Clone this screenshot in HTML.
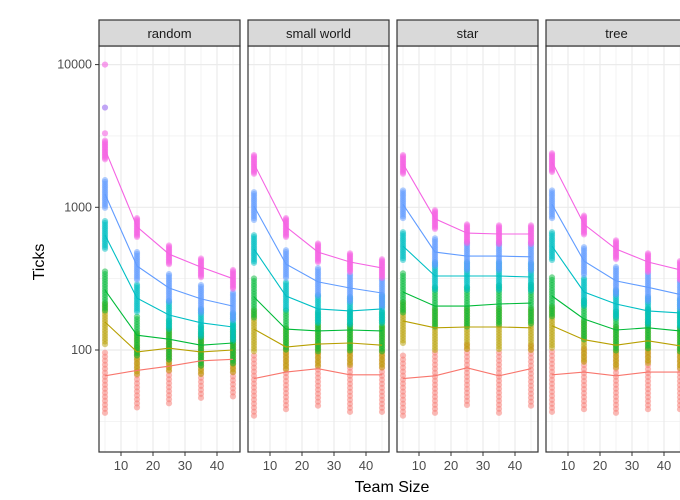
<!DOCTYPE html>
<html><head><meta charset="utf-8"><style>
body{margin:0;background:#fff;}
svg{display:block;font-family:"Liberation Sans",Arial,sans-serif;}
</style></head><body>
<svg id="chart" width="680" height="500" viewBox="0 0 680 500" xmlns="http://www.w3.org/2000/svg">
<text x="44" y="262" transform="rotate(-90 44 262)" text-anchor="middle" font-size="16" fill="#000">Ticks</text>
<text x="392" y="492" text-anchor="middle" font-size="16" fill="#000">Team Size</text>
</svg>
<script>
const panels = ["random","small world","star","tree"];
const teamSizes = [5,15,25,35,45];
const seriesColors = ["#F8766D","#B79F00","#00BA38","#00BFC4","#619CFF","#F564E3"];
const medRandom = [[66,72,77,84,86],[157,97,103,97,100],[263,127,119,108,112],[640,231,176,155,145],[1240,388,272,228,203],[2550,730,470,381,316]];
const medSmall = [[63,70,74,67,67],[140,105,110,112,108],[235,140,136,138,136],[510,239,194,188,194],[1020,400,300,272,251],[2020,730,485,414,376]];
const medStar = [[63,66,75,66,74],[160,143,145,145,143],[255,203,203,210,213],[535,330,330,330,325],[1050,485,455,455,450],[2020,830,660,650,650]];
const medTree = [[67,70,66,70,70],[148,118,108,116,107],[239,165,138,143,136],[535,255,210,188,182],[1050,420,305,275,245],[2080,760,510,414,365]];
const medians = [medRandom, medSmall, medStar, medTree];
const spreadLo = [0.55,0.7,0.72,0.8,0.8,0.85];
const spreadHi = [1.45,1.35,1.35,1.25,1.25,1.15];
const outliers = [10000,5000,3300];
const yTicks = [10000,1000,100];
const xTicks = [10,20,30,40];

const NS="http://www.w3.org/2000/svg";
const svg=document.getElementById('chart');
function mk(t,a,p){const e=document.createElementNS(NS,t);for(const k in a)e.setAttribute(k,a[k]);(p||svg).appendChild(e);return e;}
const plotTop=46,plotBottom=452,pw=141,gap=8,left0=99;
function y(v){return 350-(Math.log10(v)-2)*142.7;}
function xs(p){const x0=left0+p*(pw+gap);return v=>x0+6+(v-5)*3.2;}
const npts=16;
panels.forEach((name,p)=>{
  const x0=left0+p*(pw+gap), X=xs(p);
  const g=mk('g',{});
  
  
  mk('rect',{x:x0,y:plotTop,width:pw,height:plotBottom-plotTop,fill:'#fff'},g);
  [1,2,3].forEach(d=>{const v=Math.pow(10,d+0.5);mk('line',{x1:x0,x2:x0+pw,y1:y(v),y2:y(v),stroke:'#f0f0f0','stroke-width':0.8},g);});
  teamSizes.forEach(v=>mk('line',{x1:X(v),x2:X(v),y1:plotTop,y2:plotBottom,stroke:'#f0f0f0','stroke-width':0.8},g));
  yTicks.forEach(v=>mk('line',{x1:x0,x2:x0+pw,y1:y(v),y2:y(v),stroke:'#ebebeb','stroke-width':1.2},g));
  xTicks.forEach(v=>mk('line',{x1:X(v),x2:X(v),y1:plotTop,y2:plotBottom,stroke:'#ebebeb','stroke-width':1.2},g));
  const M=medians[p];
  M.forEach((ser,s)=>{
    ser.forEach((m,i)=>{
      const lo=Math.log10(m*spreadLo[s]),hi=Math.log10(m*spreadHi[s]);
      for(let k=0;k<npts;k++){
        const v=Math.pow(10,lo+(hi-lo)*k/(npts-1));
        const c=mk('circle',{cx:X(teamSizes[i]),cy:y(v),r:3.1,fill:seriesColors[s],'fill-opacity':0.5},g);
        
        
      }
    });
  });
  if(p===0){outliers.forEach((v,k)=>{const c=mk('circle',{cx:X(5),cy:y(v),r:3.1,fill:k===1?'#9a6cf0':seriesColors[5],'fill-opacity':0.6},g);
    
    });}
  M.forEach((ser,s)=>{
    const d=ser.map((m,i)=>(i?'L':'M')+X(teamSizes[i]).toFixed(1)+','+y(m).toFixed(1)).join('');
    const l=mk('path',{d:d,fill:'none',stroke:seriesColors[s],'stroke-width':1.1},g);
    
    
  });
  mk('rect',{x:x0,y:plotTop,width:pw,height:plotBottom-plotTop,fill:'none',stroke:'#333','stroke-width':1.2},g);
  const st=mk('rect',{x:x0,y:20,width:pw,height:26,fill:'#d9d9d9',stroke:'#333','stroke-width':1.2},g);
  
  
  const t=mk('text',{x:x0+pw/2,y:38,'text-anchor':'middle','font-size':13,fill:'#1a1a1a'},g);
  t.textContent=name;
  
  
  xTicks.forEach(v=>{
    mk('line',{x1:X(v),x2:X(v),y1:plotBottom,y2:plotBottom+4,stroke:'#333'},g);
    const tt=mk('text',{x:X(v),y:plotBottom+18,'text-anchor':'middle','font-size':13,fill:'#4d4d4d'},g);
    tt.textContent=v;
    
    
  });
});
yTicks.forEach(v=>{
  mk('line',{x1:95,x2:99,y1:y(v),y2:y(v),stroke:'#333'});
  const t=mk('text',{x:92,y:y(v)+4,'text-anchor':'end','font-size':12.5,fill:'#4d4d4d'});
  t.textContent=v;
  
  
});
</script>
</body></html>
